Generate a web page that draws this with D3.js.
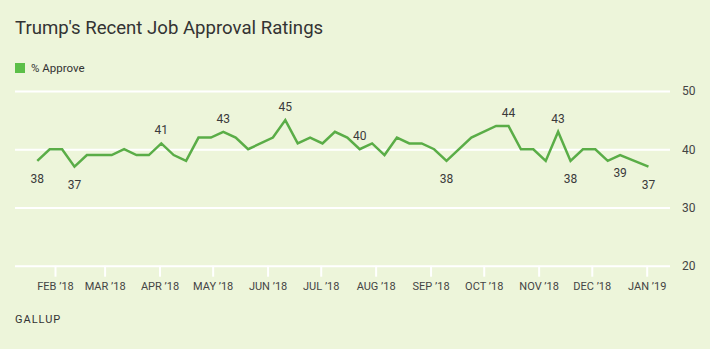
<!DOCTYPE html>
<html lang='en'>
	<head>
		<title>Trump's Recent Job Approval Ratings</title>
		<script type='text/javascript' src='https://cdn.jsdelivr.net/npm/d3@7'></script>
		<style>
			body { margin: 0; background: #edf5da; }
			svg { display: block; font-family: Roboto, 'Liberation Sans', sans-serif; }
		</style>
	</head>
	<body>
		<script type='text/javascript'>
		// weekly Gallup readings (week start dates), % approve
		var weeks = ['2018-01-22','2018-01-29','2018-02-05','2018-02-12','2018-02-19','2018-03-05','2018-03-12','2018-03-19','2018-03-26','2018-04-02',
			'2018-04-09','2018-04-16','2018-04-23','2018-04-30','2018-05-07','2018-05-14','2018-05-21','2018-06-04','2018-06-11','2018-06-18',
			'2018-06-25','2018-07-02','2018-07-09','2018-07-16','2018-07-23','2018-07-30','2018-08-06','2018-08-13','2018-08-20','2018-08-27',
			'2018-09-03','2018-09-10','2018-09-24','2018-10-08','2018-10-15','2018-10-22','2018-10-29','2018-11-05','2018-11-12','2018-11-19',
			'2018-11-26','2018-12-03','2018-12-10','2018-12-17','2019-01-02'];
		var approve = [38,40,40,37,39, 39,40,39,39,41, 39,38,42,42,43, 42,40,42,45,41,
			42,41,43,42,40, 41,39,42,41,41, 40,38,42,44,44, 40,40,38,43,38, 40,40,38,39,37];

		// which points carry a value label, and on which side
		var label_weeks = ['2018-01-22','2018-02-12','2018-04-02','2018-05-07','2018-06-11','2018-07-23','2018-09-10','2018-10-15','2018-11-12','2018-11-19','2018-12-17','2019-01-02'];
		var label_side = ['below','below','above','above','above','above','below','above','above','below','below','below'];

		var y_ticks = [20, 30, 40, 50];
		var month_ticks = ['2018-02-01','2018-03-01','2018-04-01','2018-05-01','2018-06-01','2018-07-01','2018-08-01','2018-09-01','2018-10-01','2018-11-01','2018-12-01','2019-01-01'];

		var width = 710, height = 349;
		var left = 15, right = 670;
		var parse = d3.timeParse('%Y-%m-%d');
		var data = weeks.map((w, i) => ({date: parse(w), value: approve[i]}));

		var svg = d3.select('body').append('svg').attr('width', width).attr('height', height);
		svg.append('rect').attr('width', width).attr('height', height).attr('fill', '#edf5da');

		var x = d3.scaleTime().domain([parse('2018-02-01'), parse('2019-01-01')]).range([55, 646.7]);
		var y = d3.scaleLinear().domain([20, 50]).range([265.7, 91]);

		// title and legend
		svg.append('text').attr('x', 15).attr('y', 34).text("Trump's Recent Job Approval Ratings")
			.attr('font-size', 18.6).attr('fill', '#333');
		svg.append('rect').attr('x', 15).attr('y', 63).attr('width', 10).attr('height', 10).attr('fill', '#5cbf48');
		svg.append('text').attr('x', 31).attr('y', 71.5).text('% Approve').attr('font-size', 11.5).attr('fill', '#333');

		// gridlines + right labels
		var y_axis = svg.append('g').attr('transform', 'translate(' + right + ',0)')
			.call(d3.axisRight(y).tickValues(y_ticks).tickSize(-(right - left)).tickPadding(12));
		y_axis.select('.domain').remove();
		y_axis.selectAll('line').attr('stroke', '#ffffff').attr('stroke-width', 2);
		y_axis.selectAll('text').attr('font-size', 12).attr('fill', '#444').attr('font-family', 'Roboto, sans-serif');

		// month ticks
		var fmt = d3.timeFormat("%b \u2019%y");
		var x_axis = svg.append('g').attr('transform', 'translate(0,' + y(20) + ')')
			.call(d3.axisBottom(x).tickValues(month_ticks.map(parse)).tickSize(11).tickPadding(6).tickFormat(d => fmt(d).toUpperCase()));
		x_axis.select('.domain').remove();
		x_axis.selectAll('line').attr('stroke', '#ffffff').attr('stroke-width', 2);
		x_axis.selectAll('text').attr('font-size', 11).attr('fill', '#444').attr('font-family', 'Roboto, sans-serif');

		// line
		var line = d3.line().x(d => x(d.date)).y(d => y(d.value));
		svg.append('path').datum(data).attr('d', line)
			.attr('fill', 'none').attr('stroke', '#5aad47').attr('stroke-width', 2.5).attr('stroke-linejoin', 'miter');

		// value labels
		var labelled = label_weeks.map((w, i) => {
			var d = data.find(p => +p.date === +parse(w));
			return {date: d.date, value: d.value, side: label_side[i]};
		});
		svg.selectAll('text.val').data(labelled).enter().append('text').attr('class', 'val')
			.attr('x', d => x(d.date))
			.attr('y', d => y(d.value) + (d.side === 'above' ? -9 : 22))
			.attr('text-anchor', 'middle').attr('font-size', 12).attr('fill', '#3a3a3a')
			.text(d => d.value);

		svg.append('text').attr('x', 15).attr('y', 323).text('GALLUP')
			.attr('font-size', 11).attr('letter-spacing', 1).attr('fill', '#333');
		</script>
	</body>
</html>
